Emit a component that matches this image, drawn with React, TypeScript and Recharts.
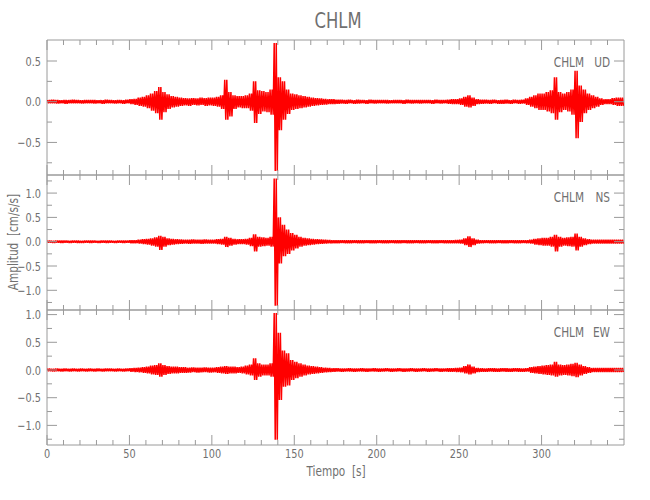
import { Line, LineChart, ReferenceArea, XAxis, YAxis } from 'recharts'

// peak values per 2.5 s window (cm/s/s)
const BIN_SECONDS = 2.5
const SWINGS_PER_BIN = 2

const UD_MAX = [
  0.02, 0.025, 0.02, 0.018, 0.022, 0.02, 0.025, 0.02, 0.018, 0.02,
  0.022, 0.02, 0.018, 0.02, 0.025, 0.02, 0.018, 0.022, 0.02, 0.025,
  0.03, 0.035, 0.05, 0.06, 0.08, 0.1, 0.13, 0.18, 0.12, 0.09,
  0.07, 0.06, 0.05, 0.045, 0.04, 0.045, 0.04, 0.05, 0.045, 0.05,
  0.05, 0.06, 0.08, 0.27, 0.12, 0.08, 0.07, 0.07, 0.08, 0.1,
  0.25, 0.14, 0.13, 0.12, 0.15, 0.72, 0.3, 0.25, 0.15, 0.1,
  0.09, 0.08, 0.07, 0.06, 0.05, 0.045, 0.04, 0.035, 0.03, 0.03,
  0.025, 0.025, 0.022, 0.025, 0.02, 0.025, 0.022, 0.02, 0.025, 0.02,
  0.02, 0.022, 0.02, 0.018, 0.02, 0.022, 0.02, 0.025, 0.02, 0.02,
  0.02, 0.022, 0.02, 0.02, 0.025, 0.02, 0.022, 0.025, 0.03, 0.03,
  0.04, 0.06, 0.08, 0.05, 0.03, 0.025, 0.025, 0.022, 0.025, 0.02,
  0.022, 0.025, 0.02, 0.025, 0.022, 0.025, 0.04, 0.06, 0.08, 0.1,
  0.1, 0.12, 0.14, 0.3, 0.12, 0.1, 0.12, 0.15, 0.38, 0.2,
  0.15, 0.1, 0.08, 0.06, 0.04, 0.03, 0.03, 0.045, 0.05, 0.05,
]
const UD_MIN = [
  -0.02, -0.018, -0.022, -0.02, -0.025, -0.02, -0.018, -0.02, -0.022, -0.02,
  -0.02, -0.022, -0.02, -0.025, -0.02, -0.018, -0.022, -0.02, -0.025, -0.02,
  -0.03, -0.04, -0.05, -0.06, -0.08, -0.11, -0.14, -0.22, -0.13, -0.09,
  -0.07, -0.06, -0.05, -0.045, -0.05, -0.04, -0.045, -0.04, -0.05, -0.045,
  -0.05, -0.06, -0.09, -0.22, -0.18, -0.09, -0.07, -0.08, -0.08, -0.11,
  -0.26, -0.15, -0.12, -0.13, -0.16, -0.85, -0.35, -0.22, -0.15, -0.1,
  -0.09, -0.08, -0.07, -0.06, -0.05, -0.045, -0.04, -0.035, -0.03, -0.03,
  -0.025, -0.022, -0.025, -0.02, -0.025, -0.022, -0.02, -0.025, -0.02, -0.022,
  -0.02, -0.02, -0.022, -0.02, -0.018, -0.02, -0.025, -0.02, -0.022, -0.02,
  -0.022, -0.02, -0.02, -0.025, -0.02, -0.022, -0.02, -0.025, -0.03, -0.03,
  -0.04, -0.06, -0.07, -0.05, -0.03, -0.025, -0.022, -0.025, -0.02, -0.025,
  -0.025, -0.022, -0.025, -0.02, -0.025, -0.022, -0.04, -0.06, -0.08, -0.1,
  -0.1, -0.12, -0.14, -0.22, -0.13, -0.1, -0.12, -0.16, -0.45, -0.25,
  -0.14, -0.1, -0.08, -0.06, -0.04, -0.03, -0.03, -0.04, -0.05, -0.05,
]

const NS_MAX = [
  0.025, 0.02, 0.025, 0.022, 0.025, 0.02, 0.025, 0.022, 0.02, 0.025,
  0.022, 0.025, 0.02, 0.025, 0.022, 0.025, 0.02, 0.025, 0.022, 0.025,
  0.03, 0.03, 0.04, 0.05, 0.06, 0.07, 0.09, 0.12, 0.1, 0.07,
  0.06, 0.05, 0.045, 0.04, 0.04, 0.045, 0.04, 0.04, 0.045, 0.04,
  0.04, 0.05, 0.06, 0.1, 0.08, 0.06, 0.05, 0.05, 0.06, 0.08,
  0.15, 0.1, 0.09, 0.08, 0.1, 1.3, 0.5, 0.35, 0.25, 0.18,
  0.14, 0.1, 0.08, 0.07, 0.06, 0.05, 0.045, 0.04, 0.035, 0.03,
  0.03, 0.03, 0.028, 0.03, 0.03, 0.028, 0.03, 0.03, 0.028, 0.03,
  0.03, 0.028, 0.03, 0.03, 0.028, 0.03, 0.03, 0.028, 0.03, 0.03,
  0.028, 0.03, 0.03, 0.028, 0.03, 0.03, 0.028, 0.03, 0.03, 0.035,
  0.04, 0.07, 0.11, 0.07, 0.04, 0.03, 0.03, 0.028, 0.03, 0.03,
  0.03, 0.028, 0.03, 0.03, 0.028, 0.03, 0.03, 0.04, 0.06, 0.07,
  0.08, 0.08, 0.1, 0.14, 0.1, 0.08, 0.09, 0.1, 0.17, 0.1,
  0.07, 0.05, 0.04, 0.04, 0.04, 0.04, 0.04, 0.04, 0.04, 0.04,
]
const NS_MIN = [
  -0.02, -0.025, -0.022, -0.025, -0.02, -0.025, -0.022, -0.025, -0.025, -0.02,
  -0.025, -0.022, -0.025, -0.02, -0.025, -0.022, -0.025, -0.02, -0.025, -0.022,
  -0.03, -0.03, -0.04, -0.05, -0.06, -0.08, -0.1, -0.17, -0.1, -0.07,
  -0.06, -0.05, -0.045, -0.04, -0.045, -0.04, -0.04, -0.045, -0.04, -0.04,
  -0.04, -0.05, -0.06, -0.11, -0.08, -0.06, -0.05, -0.05, -0.06, -0.09,
  -0.2, -0.1, -0.09, -0.08, -0.1, -1.32, -0.45, -0.3, -0.25, -0.18,
  -0.14, -0.1, -0.08, -0.07, -0.06, -0.05, -0.045, -0.04, -0.035, -0.03,
  -0.03, -0.028, -0.03, -0.03, -0.028, -0.03, -0.03, -0.028, -0.03, -0.03,
  -0.028, -0.03, -0.03, -0.028, -0.03, -0.03, -0.028, -0.03, -0.03, -0.028,
  -0.03, -0.03, -0.028, -0.03, -0.03, -0.028, -0.03, -0.03, -0.03, -0.035,
  -0.04, -0.07, -0.11, -0.07, -0.04, -0.03, -0.028, -0.03, -0.03, -0.028,
  -0.03, -0.03, -0.028, -0.03, -0.03, -0.028, -0.03, -0.04, -0.06, -0.07,
  -0.08, -0.08, -0.1, -0.2, -0.1, -0.08, -0.09, -0.1, -0.18, -0.1,
  -0.07, -0.05, -0.04, -0.04, -0.04, -0.04, -0.04, -0.04, -0.04, -0.04,
]

const EW_MAX = [
  0.025, 0.022, 0.025, 0.02, 0.025, 0.022, 0.025, 0.02, 0.025, 0.022,
  0.025, 0.022, 0.025, 0.02, 0.025, 0.025, 0.022, 0.025, 0.02, 0.025,
  0.03, 0.035, 0.04, 0.05, 0.06, 0.08, 0.09, 0.12, 0.09, 0.07,
  0.06, 0.06, 0.05, 0.05, 0.04, 0.045, 0.04, 0.04, 0.045, 0.04,
  0.04, 0.05, 0.06, 0.07, 0.06, 0.06, 0.05, 0.06, 0.08, 0.1,
  0.21, 0.12, 0.1, 0.1, 0.12, 1.03, 0.67, 0.35, 0.3, 0.18,
  0.15, 0.12, 0.1, 0.08, 0.07, 0.06, 0.05, 0.04, 0.035, 0.03,
  0.03, 0.028, 0.025, 0.03, 0.028, 0.025, 0.03, 0.028, 0.025, 0.03,
  0.028, 0.025, 0.03, 0.028, 0.025, 0.03, 0.028, 0.025, 0.03, 0.028,
  0.025, 0.03, 0.028, 0.025, 0.03, 0.028, 0.025, 0.03, 0.03, 0.035,
  0.04, 0.07, 0.1, 0.06, 0.035, 0.03, 0.028, 0.03, 0.03, 0.028,
  0.03, 0.03, 0.028, 0.03, 0.03, 0.028, 0.03, 0.05, 0.06, 0.07,
  0.08, 0.09, 0.1, 0.15, 0.1, 0.09, 0.1, 0.11, 0.13, 0.1,
  0.07, 0.05, 0.035, 0.035, 0.035, 0.035, 0.035, 0.035, 0.035, 0.035,
]
const EW_MIN = [
  -0.022, -0.025, -0.02, -0.025, -0.022, -0.025, -0.02, -0.025, -0.022, -0.025,
  -0.022, -0.025, -0.02, -0.025, -0.022, -0.02, -0.025, -0.022, -0.025, -0.02,
  -0.03, -0.035, -0.04, -0.05, -0.06, -0.08, -0.09, -0.12, -0.09, -0.07,
  -0.06, -0.06, -0.05, -0.05, -0.045, -0.04, -0.045, -0.04, -0.04, -0.045,
  -0.04, -0.05, -0.06, -0.07, -0.06, -0.06, -0.05, -0.06, -0.08, -0.1,
  -0.18, -0.12, -0.1, -0.1, -0.12, -1.26, -0.54, -0.3, -0.28, -0.18,
  -0.15, -0.12, -0.1, -0.08, -0.07, -0.06, -0.05, -0.04, -0.035, -0.03,
  -0.028, -0.03, -0.025, -0.028, -0.03, -0.025, -0.028, -0.03, -0.025, -0.028,
  -0.03, -0.028, -0.025, -0.03, -0.028, -0.025, -0.03, -0.028, -0.025, -0.03,
  -0.028, -0.025, -0.03, -0.028, -0.025, -0.03, -0.028, -0.03, -0.03, -0.035,
  -0.04, -0.06, -0.08, -0.06, -0.035, -0.03, -0.03, -0.028, -0.03, -0.03,
  -0.028, -0.03, -0.03, -0.028, -0.03, -0.03, -0.028, -0.05, -0.06, -0.07,
  -0.08, -0.09, -0.1, -0.12, -0.1, -0.09, -0.1, -0.11, -0.13, -0.1,
  -0.07, -0.05, -0.035, -0.035, -0.035, -0.035, -0.035, -0.035, -0.035, -0.035,
]

const TIME_DOMAIN: [number, number] = [0, 350]
const TIME_TICKS = [0, 10, 20, 30, 40, 50, 60, 70, 80, 90, 100, 110, 120, 130, 140, 150, 160, 170, 180, 190, 200, 210, 220, 230, 240, 250, 260, 270, 280, 290, 300, 310, 320, 330, 340]

const UD_DOMAIN: [number, number] = [-0.9, 0.758]
const NS_DOMAIN: [number, number] = [-1.405, 1.372]
const EW_DOMAIN: [number, number] = [-1.354, 1.083]
const UD_TICKS = [-0.75, -0.5, -0.25, 0, 0.25, 0.5]
const NS_TICKS = [-1.25, -1, -0.75, -0.5, -0.25, 0, 0.25, 0.5, 0.75, 1, 1.25]
const EW_TICKS = [-1.25, -1, -0.75, -0.5, -0.25, 0, 0.25, 0.5, 0.75, 1]

const STATION = 'CHLM'

const WIDTH = 650
const HEIGHT = 500
const PLOT_LEFT = 47
const PLOT_RIGHT = 624
const Y_AXIS_W = 40
const X_AXIS_H = 30
const FRAME = '#9a9a9a'
const TEXT = '#707070'
const FONT = "'DejaVu Sans', sans-serif"
const SQUEEZE = 0.78

type Row = { t: number; v: number }

// each 2.5 s window swings between its read peak and trough
function buildTrace(maxs: number[], mins: number[]): Row[] {
  const rows: Row[] = []
  const step = BIN_SECONDS / (SWINGS_PER_BIN * 2)
  maxs.forEach((hi, i) => {
    const t0 = i * BIN_SECONDS
    for (let k = 0; k < SWINGS_PER_BIN; k++) {
      rows.push({ t: t0 + step * (2 * k + 0.5), v: hi })
      rows.push({ t: t0 + step * (2 * k + 1.5), v: mins[i] })
    }
  })
  return rows
}

const fmtAmp = (value: number) => {
  const s = Math.abs(value).toFixed(1)
  return value < 0 ? `\u2212${s}` : s
}

type NarrowTextProps = {
  x: number
  y: number
  anchor?: 'start' | 'middle' | 'end'
  size: number
  dy?: string
  children: string | number
}

function NarrowText({ x, y, anchor = 'start', size, dy, children }: NarrowTextProps) {
  return (
    <text
      transform={`translate(${x} ${y}) scale(${SQUEEZE} 1)`}
      dy={dy}
      textAnchor={anchor}
      fill={TEXT}
      fontSize={size}
      fontFamily={FONT}
      style={{ whiteSpace: 'pre' }}
    >
      {children}
    </text>
  )
}

type PanelProps = {
  component: string
  maxs: number[]
  mins: number[]
  domain: [number, number]
  ticks: number[]
  top: number
  bottom: number
  showTimeLabels: boolean
}

function Panel({ component, maxs, mins, domain, ticks, top, bottom, showTimeLabels }: PanelProps) {
  const data = buildTrace(maxs, mins)

  const renderYTick = (props: any) => {
    const { x, y, payload } = props
    const value = Number(payload.value)
    const major = Math.abs(value * 2 - Math.round(value * 2)) < 1e-6
    const len = major ? 10 : 5
    return (
      <g>
        <line x1={x} x2={x + len} y1={y} y2={y} stroke={FRAME} />
        <line x1={PLOT_RIGHT} x2={PLOT_RIGHT - len} y1={y} y2={y} stroke={FRAME} />
        {major && (
          <NarrowText x={x - 6} y={y} dy="0.36em" anchor="end" size={12.5}>
            {fmtAmp(value)}
          </NarrowText>
        )}
      </g>
    )
  }

  const renderXTick = (props: any) => {
    const { x, y, payload } = props
    const value = Number(payload.value)
    const major = value % 50 === 0
    const len = major ? 10 : 5
    return (
      <g>
        <line x1={x} x2={x} y1={y} y2={y - len} stroke={FRAME} />
        <line x1={x} x2={x} y1={top} y2={top + len} stroke={FRAME} />
        {showTimeLabels && major && (
          <NarrowText x={x} y={y + 13} anchor="middle" size={12.5}>
            {value}
          </NarrowText>
        )}
      </g>
    )
  }

  return (
    <div style={{ position: 'absolute', left: 0, top: 0 }}>
      <LineChart
        width={WIDTH}
        height={HEIGHT}
        data={data}
        margin={{ top, right: WIDTH - PLOT_RIGHT, bottom: HEIGHT - bottom - X_AXIS_H, left: PLOT_LEFT - Y_AXIS_W }}
      >
        <XAxis
          dataKey="t"
          type="number"
          domain={TIME_DOMAIN}
          allowDataOverflow
          ticks={TIME_TICKS}
          interval={0}
          height={X_AXIS_H}
          axisLine={false}
          tickLine={false}
          tickSize={0}
          tickMargin={0}
          tick={renderXTick}
        />
        <YAxis
          type="number"
          domain={domain}
          allowDataOverflow
          ticks={ticks}
          interval={0}
          width={Y_AXIS_W}
          axisLine={false}
          tickLine={false}
          tickSize={0}
          tickMargin={0}
          tick={renderYTick}
        />
        <ReferenceArea
          x1={TIME_DOMAIN[0]}
          x2={TIME_DOMAIN[1]}
          y1={domain[0]}
          y2={domain[1]}
          fill="none"
          stroke={FRAME}
          strokeWidth={1}
          ifOverflow="visible"
        />
        <Line
          type="linear"
          dataKey="v"
          name={`${STATION} ${component}`}
          stroke="#ff0000"
          strokeWidth={1.5}
          strokeLinejoin="bevel"
          dot={false}
          activeDot={false}
          isAnimationActive={false}
        />
      </LineChart>
    </div>
  )
}

const PANELS = [
  { component: 'UD', maxs: UD_MAX, mins: UD_MIN, domain: UD_DOMAIN, ticks: UD_TICKS, top: 40, bottom: 175 },
  { component: 'NS', maxs: NS_MAX, mins: NS_MIN, domain: NS_DOMAIN, ticks: NS_TICKS, top: 175, bottom: 310 },
  { component: 'EW', maxs: EW_MAX, mins: EW_MIN, domain: EW_DOMAIN, ticks: EW_TICKS, top: 310, bottom: 445 },
]

export default function App() {
  return (
    <div style={{ position: 'absolute', left: 0, top: 0, width: WIDTH, height: HEIGHT, background: '#ffffff' }}>
      {PANELS.map((p, i) => (
        <Panel key={p.component} {...p} showTimeLabels={i === PANELS.length - 1} />
      ))}
      <svg width={WIDTH} height={HEIGHT} style={{ position: 'absolute', left: 0, top: 0, pointerEvents: 'none' }}>
        <NarrowText x={338} y={28} anchor="middle" size={21}>
          {STATION}
        </NarrowText>
        {PANELS.map((p) => (
          <g key={p.component}>
            <NarrowText x={584} y={p.top + 22} dy="0.36em" anchor="end" size={13.5}>
              {STATION}
            </NarrowText>
            <NarrowText x={610} y={p.top + 22} dy="0.36em" anchor="end" size={13.5}>
              {p.component}
            </NarrowText>
          </g>
        ))}
        <NarrowText x={336} y={471} dy="0.36em" anchor="middle" size={13.5}>
          {'Tiempo  [s]'}
        </NarrowText>
        <g transform="translate(13 242) rotate(-90)">
          <NarrowText x={0} y={0} dy="0.36em" anchor="middle" size={13.5}>
            {'Amplitud  [cm/s/s]'}
          </NarrowText>
        </g>
      </svg>
    </div>
  )
}
